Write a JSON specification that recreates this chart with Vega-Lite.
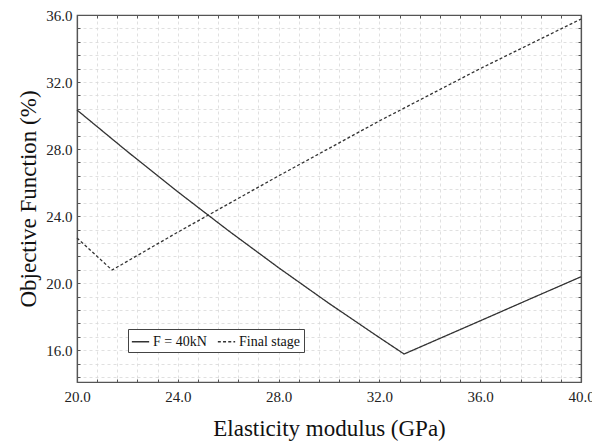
{
  "$schema": "https://vega.github.io/schema/vega-lite/v6.json",
  "width": 504,
  "height": 367,
  "autosize": {"type": "none"},
  "padding": {"left": 77, "top": 15, "right": 11, "bottom": 62},
  "background": "white",
  "config": {
    "font": "Liberation Serif",
    "view": {"stroke": "#555", "strokeWidth": 1.2},
    "axis": {
      "labelFont": "Liberation Serif",
      "titleFont": "Liberation Serif",
      "labelFontSize": 15,
      "titleFontSize": 23,
      "titleFontWeight": "normal",
      "labelColor": "#222",
      "titleColor": "#111",
      "domainColor": "#555",
      "domainWidth": 1.2,
      "tickColor": "#555",
      "tickSize": -3,
      "grid": true,
      "gridColor": "#d8d8d8",
      "gridDash": [3, 3],
      "gridWidth": 0.8,
      "labelFlush": false,
      "labelOverlap": false
    }
  },
  "data": {
    "values": [
      {"E": 20.0, "obj": 30.33, "series": "F = 40kN"},
      {"E": 22.0, "obj": 27.85, "series": "F = 40kN"},
      {"E": 24.0, "obj": 25.45, "series": "F = 40kN"},
      {"E": 26.0, "obj": 23.14, "series": "F = 40kN"},
      {"E": 28.0, "obj": 20.92, "series": "F = 40kN"},
      {"E": 30.0, "obj": 18.79, "series": "F = 40kN"},
      {"E": 32.0, "obj": 16.75, "series": "F = 40kN"},
      {"E": 32.98, "obj": 15.77, "series": "F = 40kN"},
      {"E": 34.0, "obj": 16.44, "series": "F = 40kN"},
      {"E": 36.0, "obj": 17.75, "series": "F = 40kN"},
      {"E": 38.0, "obj": 19.07, "series": "F = 40kN"},
      {"E": 40.0, "obj": 20.38, "series": "F = 40kN"},
      {"E": 20.0, "obj": 22.69, "series": "Final stage"},
      {"E": 21.39, "obj": 20.78, "series": "Final stage"},
      {"E": 24.0, "obj": 23.04, "series": "Final stage"},
      {"E": 28.0, "obj": 26.4, "series": "Final stage"},
      {"E": 32.0, "obj": 29.68, "series": "Final stage"},
      {"E": 36.0, "obj": 32.8, "series": "Final stage"},
      {"E": 40.0, "obj": 35.76, "series": "Final stage"}
    ]
  },
  "layer": [
    {
      "mark": {"type": "line", "color": "#333", "strokeWidth": 1.3},
      "encoding": {
        "x": {
          "field": "E", "type": "quantitative",
          "scale": {"domain": [20, 40], "nice": false, "zero": false},
          "axis": {
            "orient": "bottom",
            "title": "Elasticity modulus (GPa)",
            "values": [20, 20.8, 21.6, 22.4, 23.2, 24, 24.8, 25.6, 26.4, 27.2, 28, 28.8, 29.6, 30.4, 31.2, 32, 32.8, 33.6, 34.4, 35.2, 36, 36.8, 37.6, 38.4, 39.2, 40],
            "labelExpr": "datum.value % 4 == 0 ? format(datum.value, '.1f') : ''",
            "labelPadding": 10,
            "titlePadding": 13
          }
        },
        "y": {
          "field": "obj", "type": "quantitative",
          "scale": {"domain": [14.1, 36], "nice": false, "zero": false},
          "axis": {
            "orient": "left",
            "title": "Objective Function (%)",
            "values": [14.4, 15.2, 16, 16.8, 17.6, 18.4, 19.2, 20, 20.8, 21.6, 22.4, 23.2, 24, 24.8, 25.6, 26.4, 27.2, 28, 28.8, 29.6, 30.4, 31.2, 32, 32.8, 33.6, 34.4, 35.2, 36],
            "labelExpr": "datum.value % 4 == 0 ? format(datum.value, '.1f') : ''",
            "labelPadding": 8,
            "titlePadding": 5
          }
        },
        "strokeDash": {
          "field": "series", "type": "nominal",
          "scale": {"domain": ["F = 40kN", "Final stage"], "range": [[1, 0], [3, 2.2]]},
          "legend": {
            "orient": "none",
            "legendX": 51,
            "legendY": 314,
            "direction": "horizontal",
            "title": null,
            "strokeColor": "#444",
            "fillColor": "white",
            "padding": 3,
            "symbolType": "stroke",
            "symbolSize": 300,
            "symbolStrokeWidth": 1.3,
            "symbolStrokeColor": "#333",
            "labelFont": "Liberation Serif",
            "labelFontSize": 14,
            "labelColor": "#111",
            "labelOffset": 3,
            "columnPadding": 8
          }
        }
      }
    },
    {
      "mark": {"type": "point", "opacity": 0},
      "encoding": {
        "x": {
          "field": "E", "type": "quantitative",
          "axis": {
            "orient": "top", "title": null, "labels": false, "grid": false,
            "values": [20, 20.8, 21.6, 22.4, 23.2, 24, 24.8, 25.6, 26.4, 27.2, 28, 28.8, 29.6, 30.4, 31.2, 32, 32.8, 33.6, 34.4, 35.2, 36, 36.8, 37.6, 38.4, 39.2, 40]
          }
        },
        "y": {
          "field": "obj", "type": "quantitative",
          "axis": {
            "orient": "right", "title": null, "labels": false, "grid": false,
            "values": [14.4, 15.2, 16, 16.8, 17.6, 18.4, 19.2, 20, 20.8, 21.6, 22.4, 23.2, 24, 24.8, 25.6, 26.4, 27.2, 28, 28.8, 29.6, 30.4, 31.2, 32, 32.8, 33.6, 34.4, 35.2, 36]
          }
        }
      }
    }
  ],
  "resolve": {"axis": {"x": "independent", "y": "independent"}}
}
